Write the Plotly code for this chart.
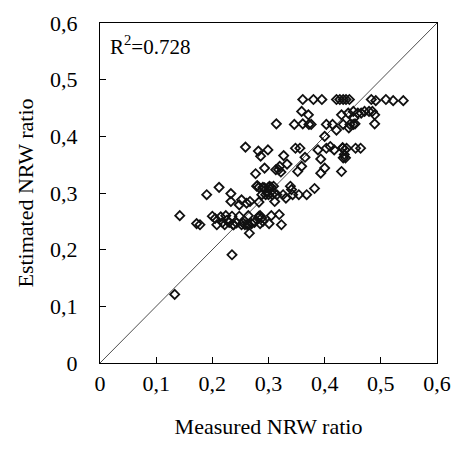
import plotly.graph_objects as go

# measured vs estimated NRW ratio
measured = [0.133, 0.142, 0.172, 0.178, 0.190, 0.200, 0.212, 0.205, 0.208, 0.215,
            0.218, 0.222, 0.224, 0.226, 0.230, 0.233, 0.233, 0.235, 0.237, 0.235,
            0.238, 0.243, 0.248, 0.248, 0.252, 0.252, 0.255, 0.258, 0.259, 0.261,
            0.262, 0.264, 0.265, 0.266, 0.267, 0.270, 0.275, 0.277, 0.279, 0.280,
            0.282, 0.283, 0.283, 0.283, 0.285, 0.286, 0.282, 0.285, 0.288, 0.288,
            0.290, 0.290, 0.293, 0.293, 0.295, 0.297, 0.299, 0.300, 0.300, 0.301,
            0.302, 0.305, 0.305, 0.307, 0.309, 0.310, 0.311, 0.313, 0.314, 0.315,
            0.318, 0.319, 0.320, 0.322, 0.323, 0.326, 0.327, 0.331, 0.333, 0.339,
            0.341, 0.343, 0.346, 0.348, 0.352, 0.354, 0.356, 0.359, 0.359, 0.361,
            0.361, 0.365, 0.368, 0.371, 0.372, 0.376, 0.380, 0.382, 0.388, 0.393,
            0.393, 0.395, 0.400, 0.400, 0.403, 0.403, 0.410, 0.414, 0.417, 0.421,
            0.421, 0.427, 0.433, 0.438, 0.444, 0.430, 0.430, 0.433, 0.433, 0.437,
            0.432, 0.436, 0.439, 0.442, 0.443, 0.445, 0.451, 0.451, 0.452, 0.454,
            0.455, 0.459, 0.464, 0.465, 0.471, 0.479, 0.483, 0.485, 0.489, 0.489,
            0.491, 0.509, 0.522, 0.540, 0.435, 0.432]
estimated = [0.121, 0.260, 0.246, 0.244, 0.297, 0.259, 0.310, 0.255, 0.244, 0.258,
             0.248, 0.244, 0.260, 0.252, 0.248, 0.299, 0.285, 0.191, 0.244, 0.259,
             0.244, 0.247, 0.259, 0.279, 0.288, 0.244, 0.247, 0.244, 0.381, 0.282,
             0.244, 0.260, 0.244, 0.229, 0.285, 0.246, 0.248, 0.334, 0.312, 0.313,
             0.374, 0.284, 0.259, 0.310, 0.246, 0.365, 0.256, 0.260, 0.297, 0.256,
             0.250, 0.310, 0.344, 0.309, 0.297, 0.302, 0.376, 0.297, 0.310, 0.246,
             0.312, 0.260, 0.310, 0.297, 0.312, 0.300, 0.285, 0.341, 0.422, 0.297,
             0.341, 0.262, 0.347, 0.337, 0.244, 0.297, 0.366, 0.291, 0.351, 0.312,
             0.306, 0.297, 0.421, 0.379, 0.338, 0.297, 0.379, 0.347, 0.444, 0.465,
             0.422, 0.363, 0.297, 0.438, 0.421, 0.421, 0.465, 0.308, 0.376, 0.335,
             0.360, 0.465, 0.400, 0.344, 0.421, 0.379, 0.382, 0.421, 0.376, 0.411,
             0.465, 0.465, 0.465, 0.465, 0.465, 0.338, 0.438, 0.421, 0.362, 0.362,
             0.379, 0.376, 0.379, 0.441, 0.415, 0.421, 0.421, 0.444, 0.432, 0.422,
             0.379, 0.441, 0.379, 0.441, 0.444, 0.444, 0.465, 0.444, 0.438, 0.422,
             0.463, 0.465, 0.463, 0.463, 0.368, 0.380]
r2_text = "R<sup>2</sup>=0.728"

fnt = "Liberation Serif, Times New Roman, serif"

fig = go.Figure()
fig.add_trace(go.Scatter(x=[0, 0.6], y=[0, 0.6], mode="lines",
                         line=dict(color="black", width=0.7), hoverinfo="skip"))
fig.add_trace(go.Scatter(x=measured, y=estimated, mode="markers",
                         marker=dict(symbol="diamond-open", size=7, color="#111111",
                                     line=dict(width=1.8, color="#111111"))))

axis_style = dict(range=[0, 0.6], dtick=0.1, tick0=0, showgrid=False, zeroline=False,
                  showline=True, linecolor="black", linewidth=1, mirror=True,
                  ticks="inside", ticklen=6, tickcolor="black", automargin=False,
                  tickfont=dict(family=fnt, size=22, color="black"))
fig.update_xaxes(**axis_style, ticklabelstandoff=1,
                 title=dict(text="Measured NRW ratio", standoff=23,
                            font=dict(family=fnt, size=22, color="black")))
fig.update_yaxes(**axis_style, ticklabelstandoff=17,
                 title=dict(text="Estimated NRW ratio", standoff=10,
                            font=dict(family=fnt, size=22, color="black")))

fig.add_annotation(x=0.005, y=0.587, xref="x", yref="y", text=r2_text, showarrow=False,
                   xanchor="left", yanchor="top", xshift=5,
                   font=dict(family=fnt, size=21, color="black"))

# page body adds an 8px offset, so the figure is 8px smaller each way
fig.update_layout(width=465, height=447, showlegend=False, separators=",.",
                  plot_bgcolor="white", paper_bgcolor="white",
                  margin=dict(l=92, r=36, t=15, b=92))
fig.write_html("out.html")
